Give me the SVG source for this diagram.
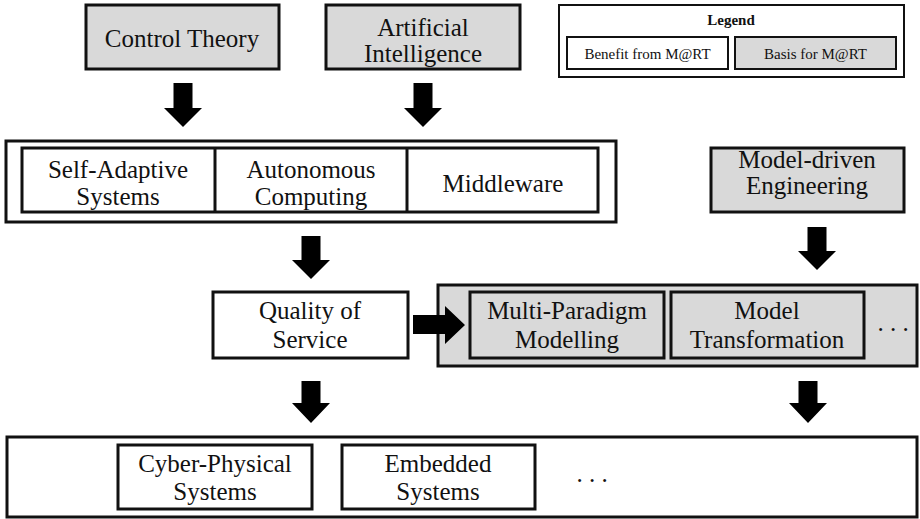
<svg xmlns="http://www.w3.org/2000/svg" width="920" height="519" viewBox="0 0 920 519">
<style>
.b{stroke:#111;stroke-width:3;}
.g{fill:#d9d9d9;}
.w{fill:#fff;}
.t{font-family:'Liberation Serif','Tinos','Times New Roman','DejaVu Serif',serif;font-size:25px;fill:#111;text-anchor:middle;}
.s{font-family:'Liberation Serif','Tinos','Times New Roman','DejaVu Serif',serif;font-size:15px;fill:#111;text-anchor:middle;}
.ar{fill:#000;}
</style>
<rect width="920" height="519" fill="#fff"/>
<g id="control-theory"><rect class="b g" x="86" y="5" width="193" height="64"/><text class="t" x="182" y="47">Control Theory</text></g>
<g id="artificial-intelligence"><rect class="b g" x="326" y="5" width="194" height="64"/><text class="t" x="423" y="36">Artificial</text><text class="t" x="423" y="62">Intelligence</text></g>
<g id="legend"><rect x="559" y="5" width="345" height="72" fill="#fff" stroke="#111" stroke-width="2"/><text class="s" x="731" y="25" font-weight="bold">Legend</text>
<rect x="567" y="37" width="161" height="32" fill="#fff" stroke="#111" stroke-width="2"/><text class="s" x="647.5" y="59">Benefit from M@RT</text>
<rect x="735" y="37" width="161" height="32" class="g" stroke="#111" stroke-width="2"/><text class="s" x="815.5" y="59">Basis for M@RT</text></g>
<g id="middle-group"><rect class="b w" x="6" y="141" width="610" height="81"/><rect class="b w" x="22" y="148" width="576" height="64"/><line class="b" x1="215" y1="148" x2="215" y2="212"/><line class="b" x1="407" y1="148" x2="407" y2="212"/></g>
<g id="self-adaptive"><text class="t" x="118" y="178">Self-Adaptive</text><text class="t" x="118" y="205">Systems</text></g>
<g id="autonomous"><text class="t" x="311" y="178">Autonomous</text><text class="t" x="311" y="205">Computing</text></g>
<g id="middleware"><text class="t" x="503" y="192">Middleware</text></g>
<g id="mde"><rect class="b g" x="711" y="148" width="193" height="64"/><text class="t" x="807" y="168">Model-driven</text><text class="t" x="807" y="194">Engineering</text></g>
<g id="qos"><rect class="b w" x="213" y="292" width="195" height="66"/><text class="t" x="310" y="319">Quality of</text><text class="t" x="310" y="348">Service</text></g>
<g id="mart-group"><rect class="b g" x="438" y="285" width="479" height="81"/><text class="t" x="893" y="331">. . .</text></g>
<g id="mpm"><rect class="b g" x="470" y="292" width="194" height="66"/><text class="t" x="567" y="319">Multi-Paradigm</text><text class="t" x="567" y="348">Modelling</text></g>
<g id="mt"><rect class="b g" x="671" y="292" width="193" height="66"/><text class="t" x="767" y="319">Model</text><text class="t" x="767" y="348">Transformation</text></g>
<g id="bottom-group"><rect class="b w" x="7" y="437" width="910" height="80"/><text class="t" x="592" y="482">. . .</text></g>
<g id="cps"><rect class="b w" x="118" y="445" width="194" height="64"/><text class="t" x="215" y="472">Cyber-Physical</text><text class="t" x="215" y="500">Systems</text></g>
<g id="embedded"><rect class="b w" x="342" y="445" width="193" height="64"/><text class="t" x="438" y="472">Embedded</text><text class="t" x="438" y="500">Systems</text></g>
<g id="connectors">
<polygon class="ar" points="173.5,83 192.5,83 192.5,108 202,108 183,127 164,108 173.5,108"/>
<polygon class="ar" points="413.5,83 432.5,83 432.5,108 442,108 423,127 404,108 413.5,108"/>
<polygon class="ar" points="301.5,236 320.5,236 320.5,260 330,260 311,279 292,260 301.5,260"/>
<polygon class="ar" points="807.5,227 826.5,227 826.5,251 836,251 817,270 798,251 807.5,251"/>
<polygon class="ar" points="301.5,381 320.5,381 320.5,403 330,403 311,423 292,403 301.5,403"/>
<polygon class="ar" points="798.5,381 817.5,381 817.5,403 827,403 808,423 789,403 798.5,403"/>
<polygon class="ar" points="413,315 445,315 445,306 465,325 445,344 445,334 413,334"/>
</g>
</svg>
